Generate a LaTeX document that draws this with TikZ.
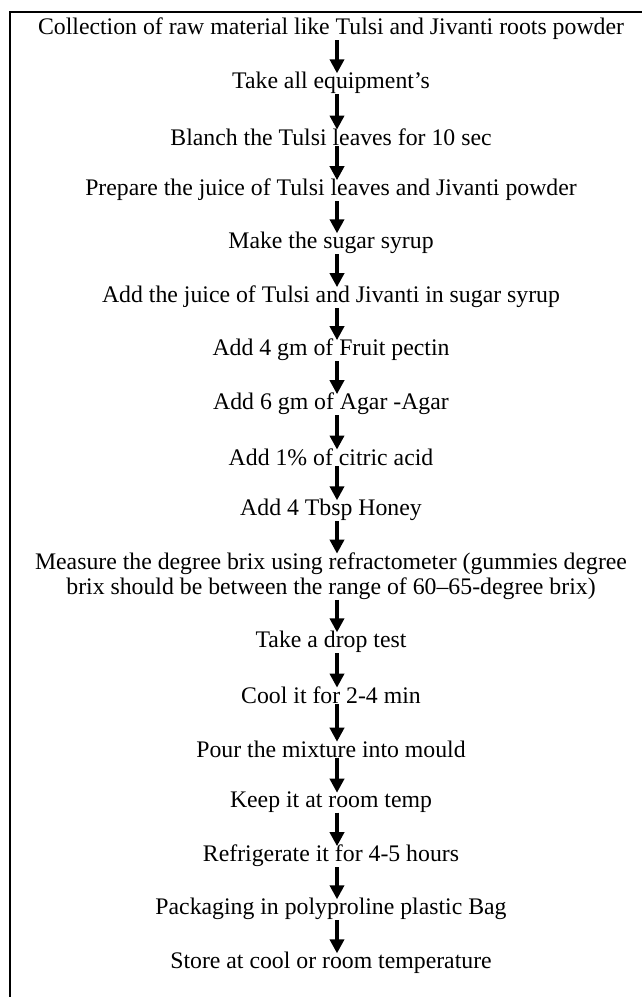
\documentclass[tikz,border=0pt]{standalone}
\usepackage{fontspec}
\setmainfont{Liberation Serif}
\usepackage{tikz}
\usetikzlibrary{arrows.meta}

\begin{document}
\begin{tikzpicture}[x=0.025cm, y=-0.025cm,
   step_style/.style={inner sep=0pt, align=center, font=\fontsize{16.9}{17.8}\selectfont},
   arrow_style/.style={draw=black, line width=2.5pt, -{Triangle[width=10pt,length=10pt]}, shorten <=0pt, shorten >=-1pt}]
	\useasboundingbox (0,0) rectangle (642,997);
	\draw [line width=2.1pt] (642,12) -- (10,12) -- (10,997);

	\node [step_style] (s1)  at (331,29)  {Collection of raw material like Tulsi and Jivanti roots powder};
	\node [step_style] (s2)  at (331,83)  {Take all equipment’s};
	\node [step_style] (s3)  at (331,137) {Blanch the Tulsi leaves for 10 sec};
	\node [step_style] (s4)  at (331,190) {Prepare the juice of Tulsi leaves and Jivanti powder};
	\node [step_style] (s5)  at (331,243) {Make the sugar syrup};
	\node [step_style] (s6)  at (331,297) {Add the juice of Tulsi and Jivanti in sugar syrup};
	\node [step_style] (s7)  at (331,350) {Add 4 gm of Fruit pectin};
	\node [step_style] (s8)  at (331,404) {Add 6 gm of Agar -Agar};
	\node [step_style] (s9)  at (331,457) {Add 1\% of citric acid};
	\node [step_style] (s10) at (331,510) {Add 4 Tbsp Honey};
	\node [step_style] (s11) at (331,576) {Measure the degree brix using refractometer (gummies degree\\brix should be between the range of 60–65-degree brix)};
	\node [step_style] (s12) at (331,642) {Take a drop test};
	\node [step_style] (s13) at (331,695) {Cool it for 2-4 min};
	\node [step_style] (s14) at (331,749) {Pour the mixture into mould};
	\node [step_style] (s15) at (331,802) {Keep it at room temp};
	\node [step_style] (s16) at (331,856) {Refrigerate it for 4-5 hours};
	\node [step_style] (s17) at (331,909) {Packaging in polyproline plastic Bag};
	\node [step_style] (s18) at (331,963) {Store at cool or room temperature};

	\foreach \from/\to in {s1/s2, s2/s3, s3/s4, s4/s5, s5/s6, s6/s7, s7/s8, s8/s9,
		s9/s10, s10/s11, s11/s12, s12/s13, s13/s14, s14/s15, s15/s16, s16/s17, s17/s18}
	  \draw [arrow_style] (\from.south -| 337,0) -- (\to.north -| 337,0);

\end{tikzpicture}
\end{document}
